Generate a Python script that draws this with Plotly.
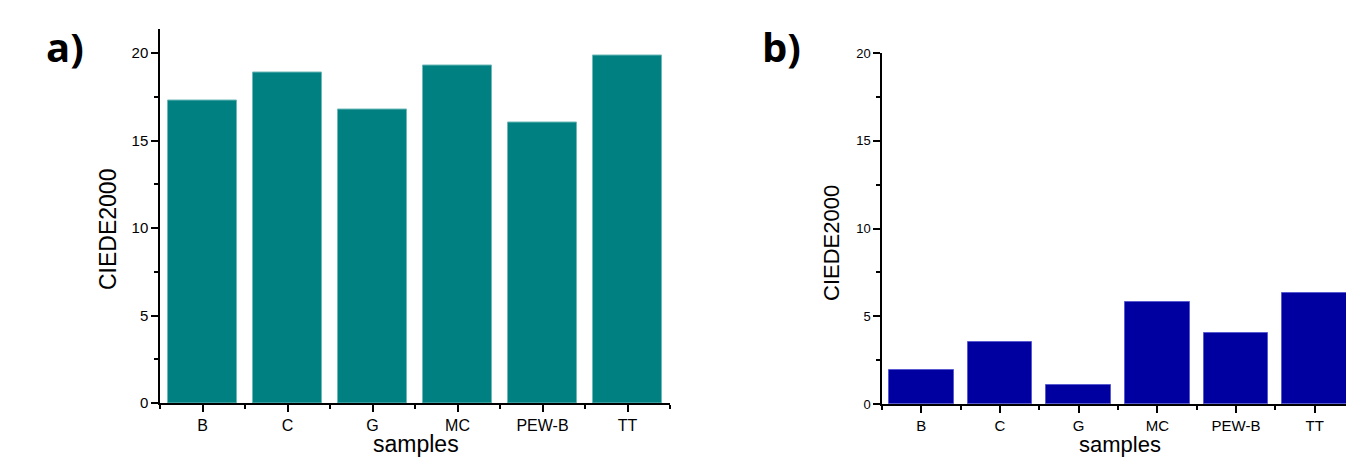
import plotly.graph_objects as go

categories = ["B", "C", "G", "MC", "PEW-B", "TT"]
values_a = [17.3, 18.9, 16.8, 19.3, 16.05, 19.85]
values_b = [1.95, 3.55, 1.1, 5.8, 4.05, 6.35]
y_ticks = [0, 5, 10, 15, 20]

W, H = 1354, 460
OFF = 8  # page body margin offset compensation
x_pos = list(range(len(categories)))
bounds = [i - 0.5 for i in range(len(categories) + 1)]

fig = go.Figure()
fig.add_trace(go.Bar(x=x_pos, y=values_a, width=0.82,
                     marker=dict(color="#008080", line=dict(color="#6fb8b8", width=1)),
                     xaxis="x", yaxis="y", showlegend=False))
fig.add_trace(go.Bar(x=x_pos, y=values_b, width=0.82,
                     marker=dict(color="#0000A0", line=dict(color="#5a5ad0", width=1)),
                     xaxis="x2", yaxis="y2", showlegend=False))

FAM = "Liberation Sans, Arial, sans-serif"

def xax(domain, anchor, size):
    return dict(domain=domain, anchor=anchor, range=[-0.5, 5.5], automargin=False,
                tickmode="array", tickvals=x_pos, ticktext=categories,
                ticks="outside", ticklen=7, tickwidth=1.5, tickcolor="black",
                showline=True, linecolor="black", linewidth=1.5,
                showgrid=False, zeroline=False,
                tickfont=dict(family=FAM, size=size, color="black"),
                minor=dict(tickmode="array", tickvals=bounds, ticks="outside",
                           ticklen=4, tickwidth=1.5, tickcolor="black", showgrid=False))

def yax(domain, anchor, rng, size):
    return dict(domain=domain, anchor=anchor, range=rng, automargin=False,
                tickmode="array", tickvals=y_ticks,
                ticks="outside", ticklen=7, tickwidth=1.5, tickcolor="black",
                showline=True, linecolor="black", linewidth=1.5,
                showgrid=False, zeroline=False,
                tickfont=dict(family=FAM, size=size, color="black"),
                minor=dict(dtick=2.5, tick0=0, ticks="outside", ticklen=4,
                           tickwidth=1.5, tickcolor="black", showgrid=False))

def px_x(v):
    return (v - OFF) / W

def px_y(v):
    return (H - (v - OFF)) / H

fig.update_layout(
    width=W, height=H,
    margin=dict(l=0, r=0, t=0, b=0, autoexpand=False),
    paper_bgcolor="white", plot_bgcolor="white",
    bargap=0,
    xaxis=xax([px_x(160), px_x(670)], "y", 16),
    yaxis=yax([px_y(403), px_y(28.5)], "x", [0, 21.4], 15),
    xaxis2=xax([px_x(882), px_x(1354)], "y2", 15),
    yaxis2=yax([px_y(404), px_y(53)], "x2", [0, 20], 13),
)

annots = [
    dict(text="<b>a)</b>", x=px_x(65), y=px_y(47), font=dict(family="Open Sans, sans-serif", size=40, color="black")),
    dict(text="<b>b)</b>", x=px_x(781), y=px_y(47), font=dict(family="Open Sans, sans-serif", size=40, color="black")),
    dict(text="CIEDE2000", x=px_x(108), y=px_y(230), textangle=-90,
         font=dict(family=FAM, size=23, color="black")),
    dict(text="CIEDE2000", x=px_x(831), y=px_y(243), textangle=-90,
         font=dict(family=FAM, size=22, color="black")),
    dict(text="samples", x=px_x(416), y=px_y(444), font=dict(family=FAM, size=23, color="black")),
    dict(text="samples", x=px_x(1120), y=px_y(444), font=dict(family=FAM, size=22, color="black")),
]
for a in annots:
    fig.add_annotation(xref="paper", yref="paper", showarrow=False,
                       xanchor="center", yanchor="middle", **a)

fig.write_html("out.html")
